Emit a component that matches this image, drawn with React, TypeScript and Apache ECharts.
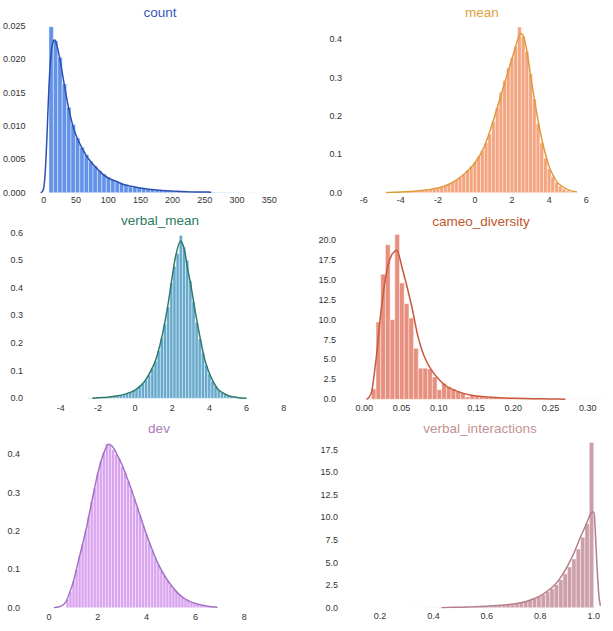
import React, { useEffect, useRef } from "react";
import * as echarts from "echarts";

// ---------- count ----------
const countBinStart = 8;
const countBinWidth = 6.84;
const countHeights = [
  0.0249, 0.0228, 0.0203, 0.0163, 0.0128, 0.0102, 0.0082, 0.0068, 0.0057, 0.0047,
  0.004, 0.0033, 0.0028, 0.0023, 0.0019, 0.0016, 0.0014, 0.0012, 0.001, 0.00088,
  0.00076, 0.00064, 0.00056, 0.00048, 0.00042, 0.00036, 0.00031, 0.00027, 0.00024, 0.00021,
  0.00018, 0.00016, 0.00014, 0.00012, 0.00011, 0.0001, 0.00009, 0.00007, 0.00006, 0.00005,
  0.00004, 0.00004, 0.00003, 0.00003, 0.00002, 0.00002, 0.00002, 0.00001, 0.00001, 0.00001,
];
const countKdeX = [-5, -2, 0, 2, 4, 6, 8, 10, 12, 15, 17, 20, 25, 30, 40, 50, 65, 75, 90, 100, 115, 125, 140, 150, 175, 200, 225, 250, 260];
const countKdeY = [0, 0.0002, 0.0008, 0.0028, 0.0065, 0.0112, 0.016, 0.0193, 0.0215, 0.0228, 0.0229, 0.0222, 0.02, 0.0172, 0.012, 0.0086, 0.0057, 0.0044, 0.0029, 0.0022, 0.0016, 0.00118, 0.0009, 0.0007, 0.0004, 0.00025, 0.00015, 0.0001, 0.00008];
const countXTicks = [0, 50, 100, 150, 200, 250, 300, 350];
const countYTicks = [0, 0.005, 0.01, 0.015, 0.02, 0.025];

// ---------- mean ----------
const meanBinStart = -4.7;
const meanBinWidth = 0.2;
const meanHeights = [
  0.001, 0.001, 0.002, 0.002, 0.002, 0.003, 0.003, 0.004, 0.005, 0.006,
  0.007, 0.009, 0.01, 0.012, 0.015, 0.018, 0.023, 0.028, 0.034, 0.04,
  0.048, 0.058, 0.068, 0.08, 0.094, 0.11, 0.13, 0.152, 0.186, 0.222,
  0.262, 0.292, 0.325, 0.352, 0.382, 0.432, 0.408, 0.368, 0.31, 0.244,
  0.18, 0.13, 0.09, 0.062, 0.042, 0.027, 0.017, 0.01, 0.005, 0.003,
];
const meanKdeX = [-4.8, -4.5, -4, -3.5, -3, -2.5, -2, -1.5, -1, -0.5, 0, 0.5, 1, 1.5, 2, 2.25, 2.45, 2.6, 2.8, 3, 3.25, 3.5, 3.75, 4, 4.25, 4.5, 5, 5.5];
const meanKdeY = [0.0005, 0.001, 0.002, 0.003, 0.005, 0.008, 0.012, 0.02, 0.033, 0.052, 0.078, 0.12, 0.19, 0.27, 0.35, 0.39, 0.415, 0.41, 0.37, 0.305, 0.23, 0.163, 0.11, 0.068, 0.042, 0.024, 0.008, 0.002];
const meanXTicks = [-6, -4, -2, 0, 2, 4, 6];
const meanYTicks = [0, 0.1, 0.2, 0.3, 0.4];

// ---------- verbal_mean ----------
const vmBinStart = -2.55;
const vmBinWidth = 0.17;
const vmHeights = [
  0.002, 0.001, 0.002, 0.002, 0.003, 0.004, 0.004, 0.006, 0.007, 0.009,
  0.011, 0.014, 0.018, 0.022, 0.027, 0.034, 0.042, 0.053, 0.066, 0.084,
  0.108, 0.135, 0.172, 0.218, 0.268, 0.33, 0.418, 0.478, 0.525, 0.59,
  0.548, 0.5, 0.425, 0.35, 0.275, 0.215, 0.165, 0.12, 0.088, 0.062,
  0.044, 0.03, 0.02, 0.013, 0.009, 0.006, 0.004, 0.003, 0.002, 0.001,
];
const vmKdeX = [-2.3, -2, -1.5, -1, -0.5, 0, 0.5, 1, 1.25, 1.5, 1.75, 2, 2.2, 2.45, 2.65, 2.8, 3, 3.25, 3.5, 3.75, 4, 4.25, 4.5, 5, 5.5, 6];
const vmKdeY = [0, 0.002, 0.004, 0.008, 0.016, 0.03, 0.06, 0.12, 0.17, 0.24, 0.33, 0.44, 0.52, 0.57, 0.54, 0.48, 0.41, 0.31, 0.22, 0.14, 0.09, 0.055, 0.03, 0.01, 0.003, 0];
const vmXTicks = [-4, -2, 0, 2, 4, 6, 8];
const vmYTicks = [0, 0.1, 0.2, 0.3, 0.4, 0.5, 0.6];

// ---------- cameo_diversity ----------
const cdBinStart = 0.0095;
const cdBinWidth = 0.0063;
const cdHeights = [
  1.3, 9.7, 15.7, 19.4, 10.0, 20.7, 14.6, 12.0, 10.2, 6.4,
  3.9, 3.9, 3.8, 2.8, 1.2, 2.0, 1.6, 1.3, 1.0, 0.8,
  0.3, 0.5, 0.4, 0.3, 0.25, 0.2, 0.2, 0.15, 0.12, 0.1,
  0.1, 0.08, 0.06, 0.05, 0.05, 0.04, 0.03, 0.03, 0.02, 0.02,
  0.02, 0.01, 0.01, 0.01, 0.01, 0.01, 0.01, 0.01, 0.01, 0.01,
];
const cdKdeX = [0.003, 0.006, 0.01, 0.0165, 0.023, 0.03, 0.0366, 0.0433, 0.05, 0.0634, 0.072, 0.08, 0.09, 0.108, 0.125, 0.144, 0.17, 0.2, 0.25, 0.27];
const cdKdeY = [0, 0.2, 1.0, 5.6, 11.5, 16.0, 18.1, 18.7, 16.8, 11.8, 7.9, 5.5, 3.7, 1.8, 1.0, 0.5, 0.25, 0.12, 0.04, 0.02];
const cdXTicks = [0, 0.05, 0.1, 0.15, 0.2, 0.25, 0.3];
const cdYTicks = [0, 2.5, 5, 7.5, 10, 12.5, 15, 17.5, 20];

// ---------- dev ----------
const devBinStart = 0.7;
const devBinWidth = 0.124;
const devHeights = [
  0.022, 0.042, 0.07, 0.1, 0.135, 0.165, 0.2, 0.238, 0.276, 0.312,
  0.35, 0.382, 0.405, 0.428, 0.424, 0.412, 0.4, 0.39, 0.368, 0.352,
  0.33, 0.308, 0.285, 0.262, 0.24, 0.215, 0.192, 0.17, 0.15, 0.13,
  0.112, 0.097, 0.084, 0.072, 0.06, 0.05, 0.042, 0.034, 0.027, 0.022,
  0.018, 0.014, 0.011, 0.009, 0.007, 0.005, 0.004, 0.003, 0.002, 0.002,
];
const devKdeX = [0.2, 0.5, 0.7, 0.85, 1.0, 1.2, 1.5, 1.75, 2.0, 2.2, 2.45, 2.6, 2.8, 3.0, 3.25, 3.5, 3.75, 4.0, 4.25, 4.5, 4.75, 5.0, 5.25, 5.5, 5.75, 6.0, 6.5, 6.9];
const devKdeY = [0, 0.004, 0.016, 0.04, 0.068, 0.12, 0.198, 0.275, 0.35, 0.395, 0.426, 0.42, 0.398, 0.372, 0.33, 0.285, 0.237, 0.19, 0.148, 0.111, 0.082, 0.059, 0.04, 0.026, 0.017, 0.011, 0.004, 0.001];
const devXTicks = [0, 2, 4, 6, 8];
const devYTicks = [0, 0.1, 0.2, 0.3, 0.4];

// ---------- verbal_interactions ----------
const viBinStart = 0.18;
const viBinWidth = 0.0164;
const viHeights = [
  0.003, 0.002, 0.003, 0.004, 0.003, 0.005, 0.006, 0.005, 0.008, 0.009,
  0.011, 0.013, 0.016, 0.02, 0.025, 0.03, 0.035, 0.042, 0.05, 0.058,
  0.068, 0.08, 0.092, 0.108, 0.125, 0.145, 0.17, 0.2, 0.24, 0.29,
  0.35, 0.42, 0.5, 0.6, 0.72, 0.86, 1.02, 1.22, 1.46, 1.75,
  2.1, 2.55, 3.1, 3.75, 4.5, 5.4, 6.5, 7.8, 9.3, 18.3,
];
const viKdeX = [0.43, 0.45, 0.5, 0.55, 0.6, 0.65, 0.7, 0.75, 0.8, 0.85, 0.875, 0.9, 0.925, 0.95, 0.97, 0.99, 1.0, 1.005, 1.01, 1.015, 1.02, 1.025];
const viKdeY = [0, 0.03, 0.06, 0.1, 0.17, 0.26, 0.4, 0.72, 1.3, 2.4, 3.3, 4.5, 6.0, 7.8, 9.1, 10.5, 10.6, 9.0, 6.0, 3.2, 1.2, 0.2];
const viXTicks = [0.2, 0.4, 0.6, 0.8, 1.0];
const viYTicks = [0, 2.5, 5, 7.5, 10, 12.5, 15, 17.5];

const FONT = "'Liberation Sans', Arial, sans-serif";

type Panel = {
  title: string;
  titleColor: string;
  barColor: string;
  lineColor: string;
  binStart: number;
  binWidth: number;
  heights: number[];
  kdeX: number[];
  kdeY: number[];
  xTicks: number[];
  yTicks: number[];
  xDec: number;
  yDec: number;
  xMin: number;
  xMax: number;
  yMax: number;
  grid: { left: number; top: number; width: number; height: number };
  titlePos: [number, number];
  yMargin: number;
  xMargin: number;
};

const panels: Panel[] = [
  {
    title: "count", titleColor: "#3457b9", barColor: "#6393e8", lineColor: "#2d4fae",
    binStart: countBinStart, binWidth: countBinWidth, heights: countHeights,
    kdeX: countKdeX, kdeY: countKdeY, xTicks: countXTicks, yTicks: countYTicks,
    xDec: 0, yDec: 3, xMin: -16, xMax: 379, yMax: 0.02545,
    grid: { left: 31.9, top: 23, width: 256, height: 169.7 },
    titlePos: [160, 12], yMargin: 8, xMargin: 3,
  },
  {
    title: "mean", titleColor: "#dca23c", barColor: "#f4a47e", lineColor: "#e09a3a",
    binStart: meanBinStart, binWidth: meanBinWidth, heights: meanHeights,
    kdeX: meanKdeX, kdeY: meanKdeY, xTicks: meanXTicks, yTicks: meanYTicks,
    xDec: 0, yDec: 1, xMin: -6.75, xMax: 6.75, yMax: 0.4425,
    grid: { left: 349.9, top: 23, width: 250.2, height: 169.7 },
    titlePos: [482, 12], yMargin: 8, xMargin: 3,
  },
  {
    title: "verbal_mean", titleColor: "#2b7b5c", barColor: "#66a9cc", lineColor: "#2e7a6c",
    binStart: vmBinStart, binWidth: vmBinWidth, heights: vmHeights,
    kdeX: vmKdeX, kdeY: vmKdeY, xTicks: vmXTicks, yTicks: vmYTicks,
    xDec: 0, yDec: 1, xMin: -5.54, xMax: 8.23, yMax: 0.61,
    grid: { left: 32.1, top: 229.9, width: 255.9, height: 168.4 },
    titlePos: [160, 220], yMargin: 9, xMargin: 5.5,
  },
  {
    title: "cameo_diversity", titleColor: "#c0582f", barColor: "#e8907f", lineColor: "#c9573a",
    binStart: cdBinStart, binWidth: cdBinWidth, heights: cdHeights,
    kdeX: cdKdeX, kdeY: cdKdeY, xTicks: cdXTicks, yTicks: cdYTicks,
    xDec: 2, yDec: 1, xMin: -0.0192, xMax: 0.3165, yMax: 21.25,
    grid: { left: 350, top: 230, width: 250, height: 169.3 },
    titlePos: [481, 221], yMargin: 14, xMargin: 4.5,
  },
  {
    title: "dev", titleColor: "#a87ab8", barColor: "#d9a3ef", lineColor: "#a273c2",
    binStart: devBinStart, binWidth: devBinWidth, heights: devHeights,
    kdeX: devKdeX, kdeY: devKdeY, xTicks: devXTicks, yTicks: devYTicks,
    xDec: 0, yDec: 1, xMin: -0.7, xMax: 9.8, yMax: 0.445,
    grid: { left: 31.9, top: 437, width: 256.2, height: 170.7 },
    titlePos: [159, 428], yMargin: 12, xMargin: 4.5,
  },
  {
    title: "verbal_interactions", titleColor: "#c29292", barColor: "#cc9fa9", lineColor: "#b47e8b",
    binStart: viBinStart, binWidth: viBinWidth, heights: viHeights,
    kdeX: viKdeX, kdeY: viKdeY, xTicks: viXTicks, yTicks: viYTicks,
    xDec: 1, yDec: 1, xMin: 0.088, xMax: 1.0273, yMax: 18.9,
    grid: { left: 350.1, top: 437.1, width: 250.9, height: 170.6 },
    titlePos: [480, 428], yMargin: 12, xMargin: 3.5,
  },
];

export default function App() {
  const ref = useRef<HTMLDivElement>(null);

  useEffect(() => {
    if (!ref.current) return;
    const chart = echarts.init(ref.current, null, { renderer: "svg" });

    const labelStyle = { fontSize: 9, color: "#333333", fontFamily: FONT };

    const grids = panels.map((p) => ({ ...p.grid, containLabel: false }));
    const xAxes = panels.map((p, i) => ({
      type: "value",
      gridIndex: i,
      min: p.xMin,
      max: p.xMax,
      axisLine: { show: false },
      axisTick: { show: false },
      splitLine: { show: false },
      axisLabel: {
        ...labelStyle,
        margin: p.xMargin,
        customValues: p.xTicks,
        formatter: (v: number) => v.toFixed(p.xDec),
      },
    }));
    const yAxes = panels.map((p, i) => ({
      type: "value",
      gridIndex: i,
      min: 0,
      max: p.yMax,
      axisLine: { show: false },
      axisTick: { show: false },
      splitLine: { show: false },
      axisLabel: {
        ...labelStyle,
        margin: p.yMargin,
        customValues: p.yTicks,
        formatter: (v: number) => v.toFixed(p.yDec),
      },
    }));

    const series: any[] = [];
    panels.forEach((p, i) => {
      series.push({
        type: "custom",
        xAxisIndex: i,
        yAxisIndex: i,
        silent: true,
        z: 2,
        data: p.heights.map((h, k) => [p.binStart + k * p.binWidth, p.binStart + (k + 1) * p.binWidth, h]),
        encode: { x: [0, 1], y: 2 },
        renderItem: (_params: any, api: any) => {
          const a = api.coord([api.value(0), api.value(2)]);
          const b = api.coord([api.value(1), 0]);
          return {
            type: "rect",
            shape: { x: a[0], y: a[1], width: b[0] - a[0], height: b[1] - a[1] },
            style: { fill: p.barColor, stroke: "#ffffff", lineWidth: 0.4 },
          };
        },
      });
      series.push({
        type: "line",
        xAxisIndex: i,
        yAxisIndex: i,
        silent: true,
        z: 3,
        showSymbol: false,
        smooth: 0.3,
        data: p.kdeX.map((x, k) => [x, p.kdeY[k]]),
        lineStyle: { color: p.lineColor, width: 1.5 },
      });
    });

    const graphic = panels.map((p) => ({
      type: "text",
      x: p.titlePos[0],
      y: p.titlePos[1],
      style: {
        text: p.title,
        fill: p.titleColor,
        font: `13.5px ${FONT}`,
        align: "center",
        verticalAlign: "middle",
      },
    }));

    chart.setOption({
      animation: false,
      backgroundColor: "#ffffff",
      grid: grids,
      xAxis: xAxes,
      yAxis: yAxes,
      series,
      graphic,
    });

    return () => chart.dispose();
  }, []);

  return (
    <div
      ref={ref}
      style={{ position: "absolute", left: 0, top: 0, width: 613, height: 631 }}
    />
  );
}
